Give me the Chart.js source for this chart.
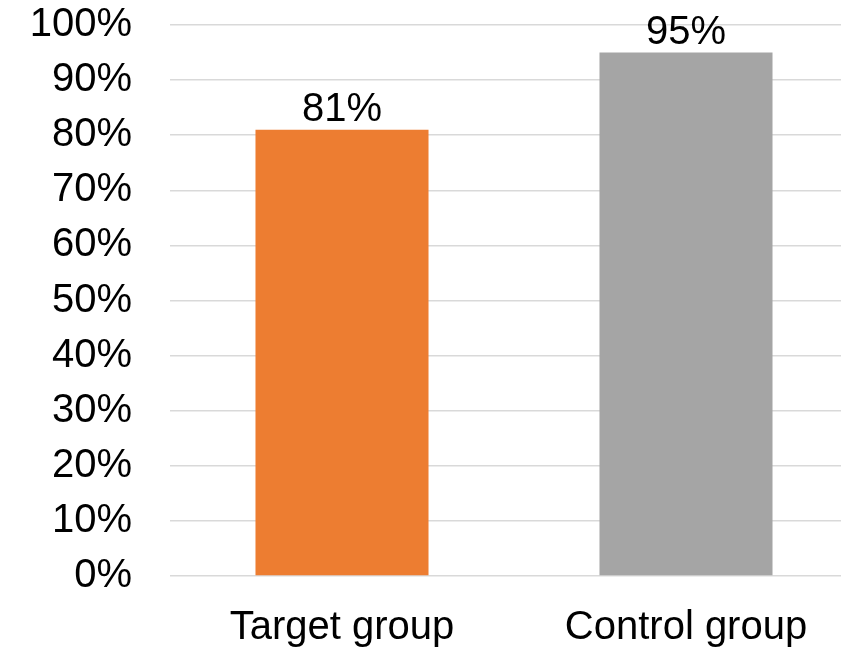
<!DOCTYPE html>
<html lang="en">
<head>
    <meta charset="UTF-8">
    <title>Target vs Control group</title>
    <script src="https://cdn.jsdelivr.net/npm/chart.js@4.4.0/dist/chart.umd.min.js"></script>
    <style>
        html, body {
            margin: 0;
            padding: 0;
            background: #ffffff;
            overflow: hidden;
        }
        .chart-box {
            position: relative;
            width: 858px;
            height: 649px;
        }
    </style>
</head>
<body>
    <div class="chart-box">
        <canvas id="groupChart"></canvas>
    </div>

    <script>
        // chart data
        const groups = ['Target group', 'Control group'];
        const shares = [81, 95];
        const barColors = ['#ED7D31', '#A5A5A5'];
        const yTicks = [0, 10, 20, 30, 40, 50, 60, 70, 80, 90, 100];

        const fontFamily = '"Liberation Sans", Arial, sans-serif';

        // draws the value above each bar
        const valueLabels = {
            id: 'valueLabels',
            afterDatasetsDraw(chart) {
                const ctx = chart.ctx;
                const meta = chart.getDatasetMeta(0);
                ctx.save();
                ctx.font = '40px ' + fontFamily;
                ctx.fillStyle = '#000000';
                ctx.textAlign = 'center';
                ctx.textBaseline = 'alphabetic';
                meta.data.forEach((bar, i) => {
                    ctx.fillText(shares[i] + '%', bar.x, bar.y - 9);
                });
                ctx.restore();
            }
        };

        new Chart(document.getElementById('groupChart'), {
            type: 'bar',
            data: {
                labels: groups,
                datasets: [{
                    data: shares,
                    backgroundColor: barColors,
                    borderWidth: 0,
                    categoryPercentage: 1,
                    barPercentage: 0.503
                }]
            },
            options: {
                responsive: true,
                maintainAspectRatio: false,
                animation: false,
                layout: { padding: { top: 25, left: 0, right: 0, bottom: 0 } },
                plugins: {
                    legend: { display: false },
                    tooltip: { enabled: false }
                },
                scales: {
                    x: {
                        grid: { display: false, drawTicks: false },
                        border: { display: false },
                        ticks: {
                            color: '#000000',
                            padding: 28,
                            font: { family: fontFamily, size: 40 }
                        },
                        afterFit(scale) { scale.height = 73; }
                    },
                    y: {
                        min: 0,
                        max: 100,
                        afterBuildTicks(scale) {
                            scale.ticks = yTicks.map(v => ({ value: v }));
                        },
                        grid: {
                            color: '#D9D9D9',
                            lineWidth: 1.5,
                            drawTicks: true,
                            tickLength: 38,
                            tickColor: 'rgba(0,0,0,0)'
                        },
                        border: { display: false },
                        ticks: {
                            color: '#000000',
                            padding: 0,
                            font: { family: fontFamily, size: 40 },
                            callback: v => v + '%'
                        },
                        afterFit(scale) { scale.width = 170; }
                    }
                }
            },
            plugins: [valueLabels]
        });
    </script>
</body>
</html>
